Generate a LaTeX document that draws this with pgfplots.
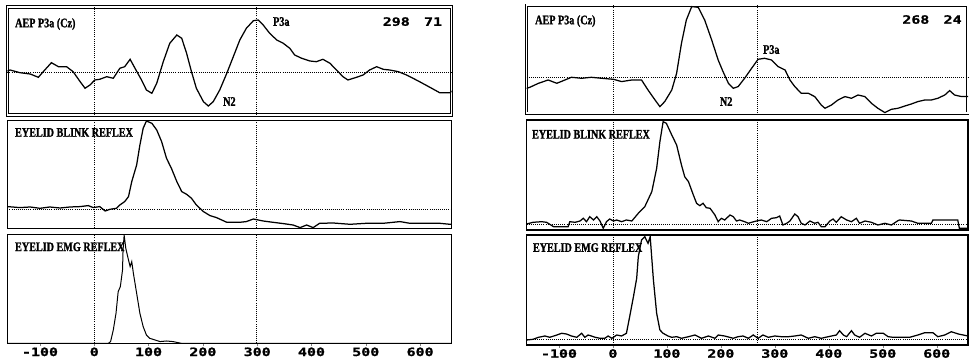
\documentclass[border=0pt]{standalone}
\usepackage{pgfplots}
\pgfplotsset{compat=1.18}
\usepackage{graphicx}
\usepackage{fontspec}
\setmainfont{Liberation Serif}[BoldFeatures={FakeBold=1.5}]
\newfontfamily\tickfont{DejaVu Sans Mono}[BoldFeatures={FakeBold=1}]
\newcommand\tl[1]{\scalebox{1.3}[1]{\tickfont\bfseries\fontsize{11.5}{12}\selectfont #1}}
\newcommand\lbl[1]{\scalebox{0.78}[1]{\bfseries\fontsize{13}{13}\selectfont #1}}

\pgfplotsset{
  panel/.style={scale only axis, ymin=0, xmin=-160, xmax=658, xtick=\empty, ytick=\empty,
    axis line style={line width=1.3pt},
    cycle list={{black, mark=none}},
    every axis plot post/.append style={black, line width=1.25pt},
    extra x tick labels={}, extra y tick labels={},
    extra x tick style={grid=major, major tick length=0pt},
    extra y tick style={grid=major, major tick length=0pt},
    major grid style={black, line width=0.8pt, dash pattern=on 0.8pt off 1.3pt},
  },
  toppanel/.style={panel, axis line style={double, double distance=1.6pt, line width=0.9pt}},
  bottompanel/.style={panel, xtick={-100,0,...,600},
    xticklabels={\tl{-100},\tl{0},\tl{100},\tl{200},\tl{300},\tl{400},\tl{500},\tl{600}},
    xtick pos=left, tick align=outside, major tick length=3pt,
    xticklabel style={inner sep=1pt}},
}

\pgfplotstableread{
x v
-160 44
-155 45
-137 42.3
-118 41
-103 37.7
-94 43.3
-79 52.3
-66 48.3
-51 48.3
-39 43.3
-26 33.3
-17 26.7
-8 30
1 35
10 35.7
23 38.3
35 36.7
47 46.7
56 48.3
66 55.7
75 46.7
87 35
96 25
106 21.7
115 31.7
127 53.3
139 71.7
152 80
161 76.7
170 61.7
179 43.3
188 26.7
201 13.3
210 9
219 13.3
231 25
244 41.7
256 58.3
268 75
280 86.7
293 94.3
302 95
311 90
323 81.7
336 75
348 71.7
360 66.7
369 60
382 56.7
397 54
409 53.3
421 55.7
434 51.7
446 45
458 38.3
467 35
483 37.7
495 40
507 45
520 48.3
532 45.7
544 45
560 43.3
575 40
587 36.7
599 33.3
618 27.7
636 22.3
655 22.3
658 24
}\aepL

\pgfplotstableread{
x v
-160 21.7
-137 20.7
-118 21.3
-100 20
-82 21.3
-63 20.3
-45 21.3
-26 21.7
-11 22.7
-2 20.7
10 21.7
20 17.3
29 19
41 20
47 23.3
56 26.7
63 31.7
69 46.7
78 63.3
84 83.3
90 100
96 107.3
106 105
115 98.3
124 86.7
133 70
142 60
152 46.7
161 36.7
170 34
179 30
188 23.3
201 16.7
213 12.7
225 10.7
244 6
268 6
280 6.7
293 9.3
311 7.3
329 6
348 4.7
366 3.3
379 0.7
391 3.3
403 0.7
415 5
440 5.3
471 4
501 5
532 5
563 6.7
581 5
606 5
636 5
655 4
658 4
}\blinkL

\pgfplotstableread{
x v
-160 0
26 0
30 1.7
35 13.3
40 30
44 51.7
48 56.7
52 73.3
53 93.3
55 108.3
58 95
63 83.3
66 76.7
69 81.7
72 70
78 50
84 30
90 16.7
96 8.3
102 5
112 3.3
121 1.7
133 2.3
145 1.7
160 0
658 0
}\emgL

\pgfplotstableread{
x v
-160 25
-154 26
-138 30
-120 33.3
-104 30
-89 33.3
-77 36
-58 35
-40 36
-21 35
1 34
16 31.7
35 33.3
53 33.3
65 23.3
78 13.3
87 6.7
96 11.7
109 23.3
118 40
127 70
136 93.3
146 106.7
158 106
170 93.3
183 73.3
195 53.3
204 41.7
214 30
223 25
232 26.7
244 35
257 45
269 54
281 55
294 53.3
306 46.7
319 43.3
328 33.3
337 26.7
349 20
362 20
374 16.7
386 8.3
393 5
405 8.3
417 13.3
430 16.7
442 15
454 18.3
467 16.7
479 10
491 5
504 0.7
516 4
528 5
541 7.3
553 9.3
565 11.7
578 13.3
590 13.3
602 15
615 18.3
624 22.7
633 18.3
646 16.7
658 16.7
}\aepR

\pgfplotstableread{
x v
-160 6
-148 7.7
-132 8.3
-123 7.7
-110 3.3
-98 3.3
-83 3.3
-80 8.3
-70 7.7
-61 9
-55 11.7
-49 8.3
-43 13.3
-36 10
-30 13.3
-24 9
-18 1.7
-12 8.3
-6 11
1 9
7 10
16 8.3
25 10
35 9
47 16.7
59 23.3
72 38.3
81 61.7
87 88.3
93 108.3
99 106.7
109 95
118 85
127 65
133 53.3
140 48.3
149 35
155 26.7
161 24.3
167 26.7
173 22.3
180 21.7
189 15
195 8.3
201 11.7
207 10
217 15
223 13.3
229 9
235 10
244 8.3
251 6.7
257 7.7
266 9
275 10
285 8.3
294 11.7
303 12.3
309 14
315 5
322 6.7
328 9
337 16
343 13.3
349 6.7
356 5
365 9
374 6.7
380 7.7
386 3.3
393 3.3
402 9
408 11
414 7.7
423 13.3
433 10
442 8.3
451 11.7
457 6.7
467 9
479 7.7
491 5
504 6.7
516 5
528 9.3
531 10
553 9
565 6.7
578 6.7
580 6.7
590 6.7
593 10
615 10
639 10
642 1.7
658 1.7
}\blinkR

\pgfplotstableread{
x v
-160 5
-148 5.7
-138 7.7
-126 9
-117 7.7
-104 10
-95 11.7
-86 11
-77 9
-67 7.7
-58 11.7
-52 7.7
-46 10
-40 9
-33 7.7
-24 6.7
-15 6.7
-9 9
-2 6.7
7 10
16 9
25 11.7
31 28.3
38 48.3
44 66.7
47 88.3
53 105
59 108.3
65 101.7
69 108.3
75 65
81 31.7
87 15
93 11.7
102 9
109 7.7
118 8.3
127 6.7
140 8.3
152 10
164 6.7
177 9
189 6.7
195 10
207 9
223 6.7
232 8.3
241 9
251 6.7
260 10
269 6.7
278 10
288 7.7
300 9
312 8.3
325 8.3
337 9
349 10
362 6.7
374 8.3
386 6.7
399 8.3
414 10
420 14.3
427 10
433 8.3
442 14.3
448 10
457 7.7
467 11.7
479 9
488 11.7
501 11.7
510 8.3
519 7.7
535 7.7
550 7.7
565 10
578 12.3
593 12.3
602 8.3
615 10
627 13.3
640 11
658 9
}\emgR

\begin{document}
\begin{tikzpicture}[x=1pt,y=1pt]
\path[use as bounding box] (0,0) rectangle (969,363);

% ---------- left column ----------
\begin{axis}[toppanel, at={(7.4pt,248pt)}, anchor=south west, width=444.2pt, height=108pt, ymax=108,
  extra x ticks={0,298}, extra y ticks={42.3}]
\addplot table[x=x,y=v] {\aepL};
\node[anchor=north west, inner sep=0] at (rel axis cs:0.017,0.898) {\lbl{AEP P3a (Cz)}};
\node[anchor=north east, inner sep=0] at (rel axis cs:0.979,0.907) {\tl{298\hspace{11pt}71}};
\node[anchor=north west, inner sep=0] at (axis cs:329,98) {\lbl{P3a}};
\node[anchor=north west, inner sep=0] at (axis cs:237,18) {\lbl{N2}};
\end{axis}

\begin{axis}[panel, at={(7.4pt,134.7pt)}, anchor=south west, width=444.2pt, height=108pt, ymax=108,
  extra x ticks={0,298}, extra y ticks={19}]
\addplot table[x=x,y=v] {\blinkL};
\node[anchor=north west, inner sep=0] at (rel axis cs:0.017,0.929) {\lbl{EYELID BLINK REFLEX}};
\end{axis}

\begin{axis}[bottompanel, at={(7.4pt,19.7pt)}, anchor=south west, width=444.2pt, height=109pt, ymax=109,
  extra x ticks={0,298}, every axis plot post/.append style={line width=1.0pt}]
\addplot table[x=x,y=v] {\emgL};
\node[anchor=north west, inner sep=0] at (rel axis cs:0.017,0.927) {\lbl{EYELID EMG REFLEX}};
\end{axis}

% ---------- right column ----------
\begin{axis}[toppanel, at={(526.6pt,249.7pt)}, anchor=south west, width=441.4pt, height=108pt, ymax=108,
  extra x ticks={0,268}, extra y ticks={35.7}]
\addplot table[x=x,y=v] {\aepR};
\node[anchor=north west, inner sep=0] at (rel axis cs:0.019,0.91) {\lbl{AEP P3a (Cz)}};
\node[anchor=north east, inner sep=0] at (rel axis cs:0.986,0.91) {\tl{268\hspace{11pt}24}};
\node[anchor=north west, inner sep=0] at (axis cs:278,68.3) {\lbl{P3a}};
\node[anchor=north west, inner sep=0] at (axis cs:198,16.3) {\lbl{N2}};
\end{axis}

\begin{axis}[panel, at={(526.6pt,133pt)}, anchor=south west, width=441.4pt, height=110pt, ymax=110,
  extra x ticks={0,268}, extra y ticks={6}]
\addplot table[x=x,y=v] {\blinkR};
\node[anchor=north west, inner sep=0] at (rel axis cs:0.012,0.91) {\lbl{EYELID BLINK REFLEX}};
\end{axis}

\begin{axis}[bottompanel, at={(526.6pt,18pt)}, anchor=south west, width=441.4pt, height=110pt, ymax=110,
  extra x ticks={0,268}, extra y ticks={6}]
\addplot table[x=x,y=v] {\emgR};
\node[anchor=north west, inner sep=0] at (rel axis cs:0.014,0.927) {\lbl{EYELID EMG REFLEX}};
\end{axis}
\end{tikzpicture}
\end{document}
